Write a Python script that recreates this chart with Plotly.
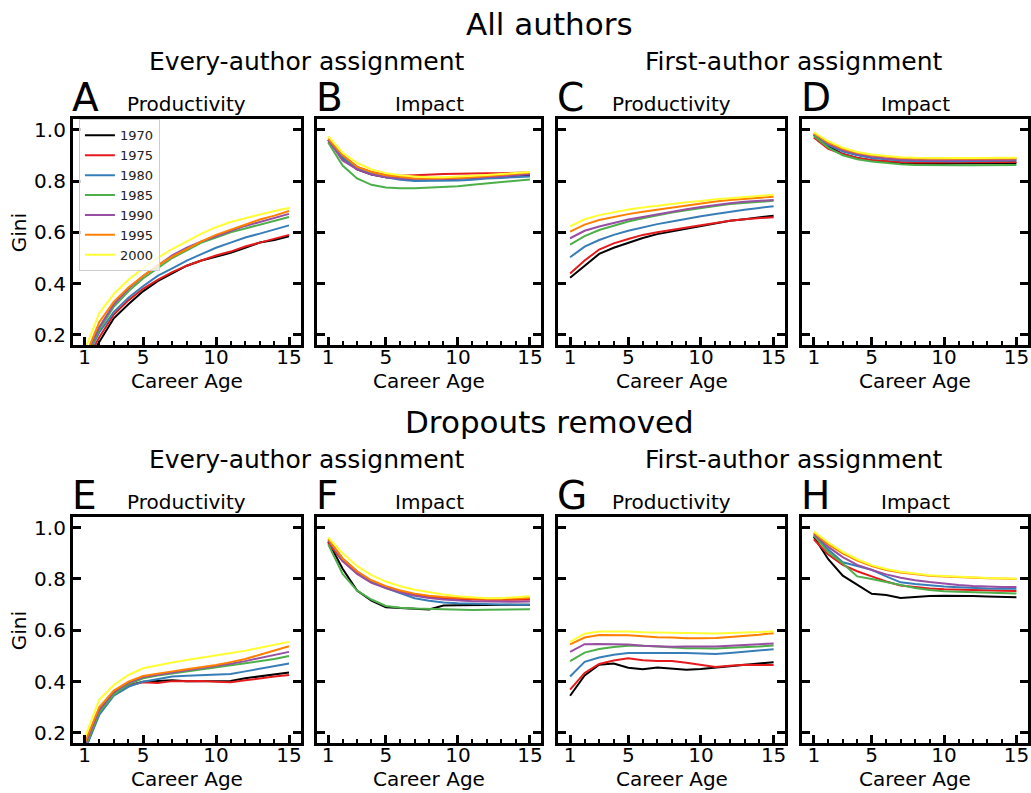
import plotly.graph_objects as go

career_age = list(range(1, 16))
cohorts = ["1970", "1975", "1980", "1985", "1990", "1995", "2000"]
colors = ["#000000", "#e41a1c", "#377eb8", "#4daf4a", "#984ea3", "#ff7f00", "#ffff33"]

# Each panel: one list per cohort (1970 ... 2000), Gini vs career age 1..15
panel_A = [
    [0.08, 0.17, 0.265, 0.32, 0.37, 0.41, 0.44, 0.47, 0.49, 0.505, 0.52, 0.54, 0.56, 0.57, 0.585],
    [0.09, 0.19, 0.28, 0.335, 0.38, 0.415, 0.445, 0.47, 0.49, 0.51, 0.525, 0.545, 0.56, 0.575, 0.59],
    [0.10, 0.21, 0.29, 0.345, 0.39, 0.43, 0.46, 0.49, 0.515, 0.54, 0.56, 0.58, 0.595, 0.61, 0.627],
    [0.10, 0.22, 0.31, 0.37, 0.42, 0.46, 0.50, 0.53, 0.56, 0.58, 0.60, 0.615, 0.63, 0.645, 0.66],
    [0.11, 0.23, 0.32, 0.38, 0.43, 0.47, 0.51, 0.54, 0.565, 0.585, 0.605, 0.625, 0.64, 0.655, 0.672],
    [0.11, 0.25, 0.33, 0.385, 0.43, 0.47, 0.505, 0.535, 0.565, 0.59, 0.61, 0.63, 0.65, 0.665, 0.683],
    [0.14, 0.285, 0.36, 0.415, 0.46, 0.50, 0.535, 0.565, 0.595, 0.62, 0.64, 0.655, 0.67, 0.683, 0.695],
]
panel_B = [
    [0.96, 0.89, 0.845, 0.825, 0.815, 0.81, 0.808, 0.807, 0.808, 0.81, 0.812, 0.815, 0.818, 0.82, 0.822],
    [0.955, 0.90, 0.855, 0.835, 0.825, 0.82, 0.822, 0.825, 0.827, 0.828, 0.83, 0.83, 0.83, 0.832, 0.833],
    [0.96, 0.89, 0.85, 0.83, 0.815, 0.805, 0.80, 0.80, 0.80, 0.802, 0.805, 0.81, 0.812, 0.815, 0.818],
    [0.95, 0.86, 0.81, 0.785, 0.775, 0.772, 0.772, 0.774, 0.777, 0.78, 0.785, 0.79, 0.795, 0.80, 0.806],
    [0.96, 0.88, 0.845, 0.825, 0.815, 0.81, 0.808, 0.807, 0.808, 0.81, 0.812, 0.815, 0.818, 0.822, 0.826],
    [0.965, 0.90, 0.855, 0.835, 0.822, 0.815, 0.81, 0.81, 0.81, 0.812, 0.815, 0.82, 0.824, 0.828, 0.832],
    [0.975, 0.91, 0.87, 0.845, 0.83, 0.822, 0.818, 0.815, 0.815, 0.817, 0.82, 0.823, 0.827, 0.83, 0.835],
]
panel_C = [
    [0.423, 0.47, 0.516, 0.54, 0.56, 0.578, 0.593, 0.604, 0.614, 0.623, 0.635, 0.645, 0.651, 0.658, 0.665],
    [0.44, 0.49, 0.533, 0.557, 0.574, 0.59, 0.60, 0.61, 0.619, 0.628, 0.636, 0.645, 0.651, 0.655, 0.659],
    [0.503, 0.544, 0.57, 0.59, 0.606, 0.619, 0.632, 0.642, 0.653, 0.663, 0.671, 0.68, 0.688, 0.695, 0.702],
    [0.552, 0.585, 0.609, 0.627, 0.642, 0.655, 0.667, 0.677, 0.686, 0.695, 0.703, 0.71, 0.715, 0.719, 0.723],
    [0.577, 0.606, 0.623, 0.637, 0.65, 0.66, 0.671, 0.681, 0.69, 0.699, 0.707, 0.713, 0.719, 0.723, 0.726],
    [0.603, 0.63, 0.648, 0.66, 0.671, 0.68, 0.688, 0.697, 0.704, 0.712, 0.72, 0.726, 0.731, 0.735, 0.739],
    [0.623, 0.651, 0.667, 0.679, 0.689, 0.697, 0.704, 0.711, 0.717, 0.722, 0.729, 0.733, 0.738, 0.742, 0.746],
]
panel_D = [
    [0.98, 0.935, 0.905, 0.89, 0.88, 0.875, 0.87, 0.868, 0.867, 0.867, 0.868, 0.868, 0.869, 0.87, 0.87],
    [0.97, 0.925, 0.905, 0.89, 0.882, 0.877, 0.874, 0.872, 0.872, 0.872, 0.872, 0.873, 0.873, 0.874, 0.874],
    [0.98, 0.94, 0.915, 0.90, 0.89, 0.884, 0.88, 0.878, 0.877, 0.877, 0.877, 0.878, 0.878, 0.879, 0.88],
    [0.975, 0.93, 0.90, 0.885, 0.876, 0.87, 0.865, 0.862, 0.861, 0.861, 0.861, 0.861, 0.862, 0.862, 0.862],
    [0.985, 0.945, 0.92, 0.905, 0.895, 0.888, 0.884, 0.882, 0.881, 0.881, 0.881, 0.881, 0.882, 0.882, 0.883],
    [0.985, 0.95, 0.925, 0.91, 0.90, 0.894, 0.89, 0.888, 0.887, 0.887, 0.887, 0.887, 0.887, 0.888, 0.888],
    [0.99, 0.955, 0.93, 0.913, 0.903, 0.897, 0.893, 0.891, 0.89, 0.89, 0.89, 0.89, 0.89, 0.891, 0.891],
]
panel_E = [
    [0.13, 0.28, 0.35, 0.385, 0.40, 0.402, 0.405, 0.402, 0.402, 0.402, 0.403, 0.413, 0.42, 0.428, 0.436],
    [0.14, 0.29, 0.355, 0.385, 0.398, 0.395, 0.402, 0.402, 0.403, 0.40, 0.398, 0.405, 0.413, 0.42, 0.426],
    [0.13, 0.27, 0.345, 0.38, 0.40, 0.41, 0.42, 0.423, 0.426, 0.428, 0.43, 0.44, 0.45, 0.46, 0.471],
    [0.14, 0.28, 0.35, 0.39, 0.413, 0.424, 0.432, 0.44, 0.448, 0.455, 0.462, 0.47, 0.478, 0.488, 0.50],
    [0.15, 0.29, 0.36, 0.395, 0.418, 0.428, 0.436, 0.444, 0.452, 0.46, 0.47, 0.48, 0.492, 0.504, 0.516],
    [0.16, 0.30, 0.365, 0.40, 0.422, 0.432, 0.44, 0.448, 0.456, 0.465, 0.476, 0.488, 0.505, 0.522, 0.538],
    [0.18, 0.329, 0.387, 0.426, 0.452, 0.465, 0.475, 0.484, 0.493, 0.501, 0.51, 0.52, 0.532, 0.542, 0.555],
]
panel_F = [
    [0.945, 0.84, 0.755, 0.716, 0.69, 0.686, 0.684, 0.681, 0.697, 0.698, 0.698, 0.699, 0.70, 0.70, 0.70],
    [0.94, 0.87, 0.825, 0.79, 0.768, 0.75, 0.738, 0.73, 0.725, 0.722, 0.72, 0.719, 0.719, 0.72, 0.72],
    [0.95, 0.88, 0.83, 0.79, 0.765, 0.745, 0.725, 0.715, 0.708, 0.705, 0.703, 0.702, 0.701, 0.70, 0.70],
    [0.935, 0.82, 0.755, 0.72, 0.695, 0.688, 0.685, 0.683, 0.681, 0.679, 0.679, 0.68, 0.68, 0.681, 0.682],
    [0.95, 0.87, 0.82, 0.785, 0.765, 0.748, 0.735, 0.726, 0.72, 0.716, 0.713, 0.712, 0.711, 0.711, 0.712],
    [0.955, 0.88, 0.83, 0.795, 0.772, 0.755, 0.743, 0.735, 0.73, 0.726, 0.724, 0.723, 0.723, 0.724, 0.726],
    [0.962, 0.90, 0.85, 0.815, 0.79, 0.772, 0.758, 0.748, 0.74, 0.733, 0.728, 0.725, 0.725, 0.728, 0.733],
]
panel_G = [
    [0.345, 0.424, 0.466, 0.471, 0.454, 0.448, 0.455, 0.45, 0.446, 0.449, 0.454, 0.459, 0.464, 0.47, 0.476],
    [0.369, 0.434, 0.469, 0.482, 0.491, 0.483, 0.48, 0.48, 0.474, 0.465, 0.457, 0.462, 0.466, 0.465, 0.465],
    [0.42, 0.477, 0.494, 0.505, 0.512, 0.513, 0.513, 0.512, 0.512, 0.511, 0.508, 0.512, 0.516, 0.521, 0.526],
    [0.48, 0.513, 0.527, 0.535, 0.54, 0.54, 0.537, 0.533, 0.53, 0.53, 0.529, 0.532, 0.534, 0.537, 0.541],
    [0.516, 0.546, 0.547, 0.547, 0.545, 0.54, 0.537, 0.536, 0.537, 0.537, 0.537, 0.54, 0.542, 0.545, 0.549],
    [0.545, 0.572, 0.582, 0.582, 0.581, 0.577, 0.573, 0.572, 0.569, 0.569, 0.57, 0.574, 0.578, 0.583, 0.589],
    [0.555, 0.587, 0.595, 0.596, 0.595, 0.592, 0.591, 0.59, 0.588, 0.588, 0.588, 0.59, 0.591, 0.593, 0.596],
]
panel_H = [
    [0.965, 0.877, 0.813, 0.777, 0.742, 0.738, 0.726, 0.73, 0.734, 0.735, 0.735, 0.734, 0.732, 0.731, 0.729],
    [0.955, 0.895, 0.855, 0.83, 0.81, 0.79, 0.775, 0.768, 0.763, 0.76, 0.758, 0.756, 0.755, 0.754, 0.753],
    [0.97, 0.915, 0.865, 0.85, 0.836, 0.81, 0.787, 0.78, 0.775, 0.771, 0.768, 0.765, 0.763, 0.762, 0.762],
    [0.97, 0.905, 0.86, 0.81, 0.80, 0.788, 0.775, 0.765, 0.757, 0.752, 0.75, 0.748, 0.746, 0.745, 0.743],
    [0.975, 0.925, 0.885, 0.855, 0.835, 0.818, 0.805, 0.795, 0.788, 0.782, 0.777, 0.773, 0.77, 0.769, 0.769],
    [0.98, 0.935, 0.90, 0.872, 0.85, 0.835, 0.825, 0.818, 0.813, 0.81, 0.807, 0.805, 0.803, 0.802, 0.80],
    [0.985, 0.942, 0.906, 0.877, 0.854, 0.839, 0.828, 0.821, 0.815, 0.812, 0.809, 0.806, 0.804, 0.803, 0.801],
]

panel_letters = ["A", "B", "C", "D", "E", "F", "G", "H"]
panel_titles = ["Productivity", "Impact"] * 4
section_titles = ["All authors", "Dropouts removed"]
group_titles = ["Every-author assignment", "First-author assignment"]
y_ticks = [0.2, 0.4, 0.6, 0.8, 1.0]
x_ticks = [1, 5, 10, 15]
panels = [panel_A, panel_B, panel_C, panel_D, panel_E, panel_F, panel_G, panel_H]

W, H = 1031, 793
FONT = "DejaVu Sans"
col_px = [(73, 301), (317, 542), (559, 786), (803, 1029)]
row_px = [(118, 345), (518, 745)]

def px_x(p):
    return p / W

def px_y(p):
    return 1 - p / H

fig = go.Figure()
annotations = []

for i, pdata in enumerate(panels):
    r, c = divmod(i, 4)
    ax = i + 1
    xa = "x" if ax == 1 else f"x{ax}"
    ya = "y" if ax == 1 else f"y{ax}"
    for k, ys in enumerate(pdata):
        fig.add_trace(go.Scatter(
            x=career_age, y=ys, mode="lines", name=cohorts[k],
            line=dict(color=colors[k], width=2),
            xaxis=xa, yaxis=ya, showlegend=(i == 0),
        ))
    x0, x1 = col_px[c]
    y0, y1 = row_px[r]
    common = dict(showgrid=False, zeroline=False, showline=True, linecolor="black",
                  linewidth=3, ticks="inside", tickwidth=2.5, ticklen=8, tickcolor="black",
                  tickfont=dict(family=FONT, size=20, color="black"))
    fig.layout[f"xaxis{ax}" if ax > 1 else "xaxis"] = dict(
        domain=[px_x(x0), px_x(x1)], anchor=ya, range=[0.2, 15.8],
        tickvals=x_ticks, ticktext=[str(v) for v in x_ticks], mirror=True,
        ticklabelstandoff=-8,
        minor=dict(dtick=1, tick0=0, ticks="inside", ticklen=4, tickwidth=2, tickcolor="black"),
        **common)
    fig.layout[f"yaxis{ax}" if ax > 1 else "yaxis"] = dict(
        domain=[px_y(y1), px_y(y0)], anchor=xa, range=[0.16, 1.04],
        tickvals=y_ticks, ticktext=[f"{v:.1f}" for v in y_ticks] if c == 0 else [""] * 5,
        showticklabels=(c == 0), mirror="allticks", **common)
    cx = (x0 + x1) / 2
    annotations.append(dict(text=panel_letters[i], x=px_x(x0 - 3), y=px_y(y0 + 2.5),
                            xref="paper", yref="paper", xanchor="left", yanchor="bottom",
                            showarrow=False, font=dict(family=FONT, size=39, color="black")))
    annotations.append(dict(text=panel_titles[i], x=px_x(cx), y=px_y(y0 - 1),
                            xref="paper", yref="paper", xanchor="center", yanchor="bottom",
                            showarrow=False, font=dict(family=FONT, size=20, color="black")))
    annotations.append(dict(text="Career Age", x=px_x(cx), y=px_y(y1 + 36),
                            xref="paper", yref="paper", xanchor="center", yanchor="middle",
                            showarrow=False, font=dict(family=FONT, size=20, color="black")))
    if c == 0:
        annotations.append(dict(text="Gini", x=px_x(19), y=px_y((y0 + y1) / 2), textangle=-90,
                                xref="paper", yref="paper", xanchor="center", yanchor="middle",
                                showarrow=False, font=dict(family=FONT, size=20, color="black")))

for r in range(2):
    base = row_px[r][0]
    annotations.append(dict(text=section_titles[r], x=px_x(550), y=px_y(base - 96),
                            xref="paper", yref="paper", xanchor="center", yanchor="middle",
                            showarrow=False, font=dict(family=FONT, size=31, color="black")))
    for g in range(2):
        annotations.append(dict(text=group_titles[g], x=px_x([307, 795][g]), y=px_y(base - 58),
                                xref="paper", yref="paper", xanchor="center", yanchor="middle",
                                showarrow=False, font=dict(family=FONT, size=25, color="black")))

fig.update_layout(
    width=W, height=H, margin=dict(l=0, r=0, t=0, b=0),
    paper_bgcolor="white", plot_bgcolor="white",
    annotations=annotations,
    legend=dict(x=px_x(79), y=px_y(118), xanchor="left", yanchor="top",
                bgcolor="rgba(255,255,255,0.8)", bordercolor="#cccccc", borderwidth=1,
                font=dict(family=FONT, size=13, color="#222222"), tracegroupgap=0,
                itemwidth=30),
    font=dict(family=FONT),
)

fig.write_html("out.html", config={"displayModeBar": False},
               post_script="document.body.style.margin='0';document.body.style.padding='0';")
